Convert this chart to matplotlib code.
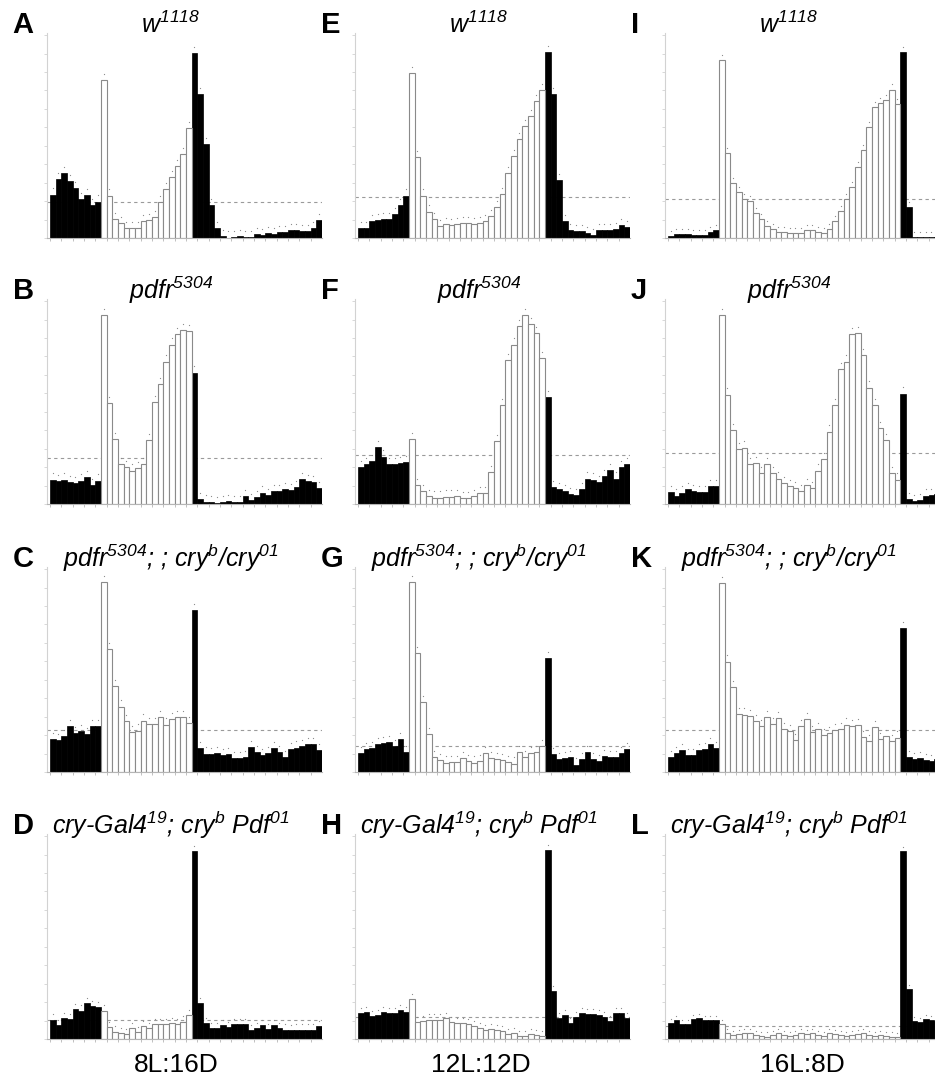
import matplotlib
matplotlib.use("Agg")
import matplotlib.pyplot as plt
import numpy as np

plt.rcParams['font.family'] = ['Liberation Sans', 'DejaVu Sans']
plt.rcParams['mathtext.fontset'] = 'custom'
plt.rcParams['mathtext.rm'] = 'Liberation Sans:italic'
plt.rcParams['mathtext.it'] = 'Liberation Sans:italic'

# photoperiods per column (hours of light), lights on after 9 half-hour bins
photoperiods = ["8L:16D", "12L:12D", "16L:8D"]
light_hours = [8, 12, 16]
dark_bins_before = 9

genotypes = [r"w$^{1118}$",
             r"pdfr$^{5304}$",
             r"pdfr$^{5304}$; ; cry$^{b}$/cry$^{01}$",
             r"cry-Gal4$^{19}$; cry$^{b}$ Pdf$^{01}$"]

letters = [["A", "E", "I"], ["B", "F", "J"], ["C", "G", "K"], ["D", "H", "L"]]

# relative activity per half-hour bin (48 bins)
vals_A = [21.2, 28.8, 31.6, 27.7, 24.3, 18.9, 21.0, 16.2, 17.8,
          76.9, 20.7, 9.4, 7.4, 4.9, 4.9, 4.9, 8.1, 8.9, 10.2, 17.5, 23.9, 29.6, 35.0, 40.8, 53.7,
          90.3, 70.4, 45.8, 15.9, 4.9, 1.0, 0.2, 0.5, 1.0, 0.6, 0.3, 2.1, 1.6, 2.4, 2.1, 2.8, 2.9,
          3.7, 4.0, 3.2, 3.2, 4.9, 8.6]
vals_E = [4.9, 4.9, 8.1, 8.6, 9.1, 9.1, 11.8, 16.2, 20.7,
          80.6, 39.3, 20.7, 12.9, 9.4, 5.7, 6.8, 6.1, 6.8, 7.4, 7.4, 6.8, 7.4, 8.1, 10.7, 14.9,
          21.5, 31.6, 40.1, 48.2, 54.7, 59.5, 66.8, 72.2,
          90.6, 70.1, 28.3, 8.1, 3.7, 3.2, 3.4, 2.4, 1.6, 3.7, 3.7, 3.7, 4.5, 6.1, 5.3]
vals_I = [1.0, 2.1, 1.8, 1.8, 1.6, 1.6, 1.3, 3.1, 3.9,
          87.0, 41.6, 26.9, 22.4, 18.8, 18.0, 12.3, 9.4, 5.8, 4.2, 3.1, 2.9, 2.6, 2.6, 2.6, 3.7,
          3.7, 3.1, 2.6, 4.2, 8.3, 13.0, 18.8, 24.8, 34.6, 42.9, 54.1, 63.8, 65.9, 67.5, 72.4, 65.4,
          90.6, 15.1, 0.3, 0.3, 0.3, 0.3, 0.3]
vals_B = [11.9, 11.0, 11.9, 10.7, 10.2, 11.4, 13.0, 9.4, 11.4,
          92.1, 49.3, 31.6, 19.6, 18.0, 16.3, 17.6, 19.6, 31.1, 49.8, 58.3, 69.5, 77.8, 83.0, 84.8, 84.3,
          64.1, 2.5, 1.2, 0.8, 0.3, 0.8, 1.5, 0.8, 0.8, 4.0, 2.0, 3.3, 5.6, 4.4, 6.4, 6.4, 7.2,
          6.9, 8.2, 12.2, 11.0, 10.5, 7.7]
vals_F = [18.0, 19.3, 20.9, 27.8, 23.1, 19.3, 19.6, 20.1, 20.6,
          31.6, 9.4, 6.1, 4.0, 3.1, 3.1, 3.6, 3.6, 4.0, 2.8, 2.8, 4.0, 5.3, 5.3, 15.5, 30.8,
          48.1, 70.3, 77.8, 86.8, 92.1, 87.6, 83.2, 71.2,
          52.2, 8.1, 7.4, 6.1, 4.8, 4.4, 7.4, 12.4, 11.9, 10.5, 13.5, 16.6, 12.4, 18.0, 19.6]
vals_J = [5.8, 4.1, 5.6, 7.4, 6.4, 5.8, 5.8, 8.6, 8.9,
          92.1, 53.4, 36.1, 26.7, 27.5, 19.3, 19.8, 15.2, 19.3, 15.2, 12.4, 10.2, 8.6, 7.7, 6.4, 9.4,
          7.7, 16.3, 22.1, 35.3, 48.4, 65.7, 69.5, 82.7, 83.2, 72.5, 56.8, 48.4, 37.1, 31.1, 15.2, 11.9,
          53.9, 2.3, 1.5, 2.0, 4.1, 4.4, 4.8]
vals_C = [16.2, 15.7, 17.4, 22.6, 19.0, 19.8, 18.5, 22.6, 22.3,
          92.6, 59.8, 41.8, 31.9, 24.8, 19.3, 20.2, 25.1, 23.5, 23.5, 26.9, 23.1, 26.0, 26.8, 26.8, 24.0,
          78.8, 11.6, 9.0, 8.6, 9.4, 8.3, 8.6, 6.6, 6.9, 7.4, 12.1, 9.9, 8.3, 9.1, 11.6, 9.6, 7.4,
          11.1, 11.9, 12.7, 13.6, 13.6, 10.7]
vals_G = [9.4, 11.1, 11.6, 13.7, 14.0, 14.5, 12.7, 16.2, 9.9,
          92.6, 58.2, 34.2, 18.5, 7.4, 5.8, 4.6, 5.0, 5.0, 6.6, 5.3, 4.6, 5.5, 9.4, 6.9, 6.3,
          5.8, 5.0, 4.1, 9.9, 7.4, 9.4, 9.9, 12.7,
          55.4, 8.8, 6.1, 6.9, 7.4, 3.6, 6.3, 9.6, 6.3, 5.3, 7.8, 7.1, 7.4, 9.1, 11.1]
vals_K = [7.4, 9.4, 10.7, 8.2, 8.1, 10.5, 11.0, 13.5, 11.5,
          92.3, 53.9, 41.5, 28.3, 28.0, 27.2, 25.0, 22.2, 26.7, 23.4, 26.2, 20.9, 19.8, 15.5, 22.2, 25.9,
          19.3, 20.9, 18.0, 18.8, 20.6, 20.9, 23.1, 22.6, 22.9, 17.1, 15.2, 22.1, 16.0, 17.6, 15.2, 16.8,
          70.3, 7.2, 6.1, 6.9, 5.8, 5.3, 6.1]
vals_D = [9.5, 6.6, 10.2, 9.8, 14.4, 13.9, 17.7, 15.9, 15.6,
          13.9, 5.7, 3.6, 3.0, 2.5, 5.2, 3.3, 6.1, 5.2, 7.4, 7.4, 7.4, 7.9, 7.4, 8.5, 11.5,
          91.8, 17.5, 7.9, 5.2, 5.2, 6.9, 5.7, 7.4, 7.4, 7.4, 4.4, 5.2, 6.6, 4.9, 6.6, 5.4, 4.6,
          4.4, 4.6, 4.6, 4.6, 4.6, 6.1]
vals_H = [12.8, 13.3, 11.2, 11.5, 13.3, 12.5, 12.8, 14.0, 13.3,
          19.4, 8.2, 8.7, 9.5, 9.5, 9.5, 10.4, 8.2, 7.9, 7.6, 7.1, 6.3, 5.4, 4.3, 4.9, 4.3,
          3.8, 2.5, 3.0, 1.6, 1.6, 2.5, 2.1, 1.6,
          92.1, 23.5, 10.4, 11.5, 7.6, 10.9, 12.8, 12.0, 12.0, 11.5, 10.9, 8.7, 12.5, 12.8, 10.4]
vals_L = [7.7, 9.1, 7.4, 7.4, 9.9, 10.2, 9.4, 9.1, 9.4,
          7.2, 3.1, 2.0, 2.5, 2.8, 2.8, 2.0, 1.5, 1.2, 2.0, 2.8, 2.0, 1.5, 2.0, 2.8, 2.5,
          3.1, 2.0, 1.5, 2.8, 2.5, 2.0, 1.5, 2.0, 2.5, 2.8, 2.0, 1.5, 2.0, 1.5, 1.2, 0.8,
          91.8, 24.5, 8.9, 8.2, 9.7, 9.4, 8.6]

panel_vals = [[vals_A, vals_E, vals_I],
              [vals_B, vals_F, vals_J],
              [vals_C, vals_G, vals_K],
              [vals_D, vals_H, vals_L]]

# daily mean level (dashed line)
mean_levels = [[17.5, 20.2, 19.2],
               [22.2, 23.9, 25.0],
               [20.3, 12.9, 20.6],
               [9.3, 10.9, 6.4]]

# approximate SEM (the small dots above bars)
sem_levels = [[3.0, 3.0, 2.5],
              [3.0, 3.0, 3.0],
              [3.0, 3.0, 3.0],
              [2.5, 2.5, 2.0]]

FIG_W = 935
FIG_H = 1083
col_left_px = [47, 355, 665]
row_top_px = [33, 299, 567, 834]
ax_w_px = 275
ax_h_px = 205


def draw_panel(ax, vals, n_light, mean_level, sem):
    vals = np.array(vals)
    x = np.arange(len(vals))
    is_light = (x >= dark_bins_before) & (x < dark_bins_before + 2 * n_light)

    ax.bar(x[~is_light], vals[~is_light], width=1.0, align='edge',
           color='black', edgecolor='black', linewidth=0.5, zorder=2)
    ax.bar(x[is_light], vals[is_light], width=1.0, align='edge',
           color='white', edgecolor='#8a8a8a', linewidth=0.8, zorder=2)

    # sem dots
    ax.scatter(x + 0.5, vals + sem, s=0.8, color='#8a8a8a', zorder=3, linewidths=0)

    ax.axhline(mean_level, color='#9a9a9a', linestyle=(0, (3, 3)), linewidth=0.8, zorder=1)

    ax.set_xlim(-0.5, 48)
    ax.set_ylim(0, 100)
    for side in ['top', 'right']:
        ax.spines[side].set_visible(False)
    ax.spines['left'].set_color('#d2d2d2')
    ax.spines['bottom'].set_color('#b5b5b5')
    ax.spines['left'].set_linewidth(0.8)
    ax.spines['bottom'].set_linewidth(0.8)
    ax.set_xticks(np.arange(0, 48, 2))
    ax.set_yticks(np.arange(0, 100, 9))
    ax.tick_params(axis='x', length=2.5, width=0.6, color='#b5b5b5', labelbottom=False)
    ax.tick_params(axis='y', length=2.5, width=0.6, color='#d2d2d2', labelleft=False)
    return 0


def main():
    fig = plt.figure(figsize=(FIG_W / 100, FIG_H / 100), dpi=100)

    for r in range(4):
        for c in range(3):
            left = col_left_px[c] / FIG_W
            bottom = 1 - (row_top_px[r] + ax_h_px) / FIG_H
            ax = fig.add_axes([left, bottom, ax_w_px / FIG_W, ax_h_px / FIG_H])
            draw_panel(ax, panel_vals[r][c], light_hours[c], mean_levels[r][c], sem_levels[r][c])

            ax.text(0.45, 1.0, genotypes[r], transform=ax.transAxes, ha='center',
                    va='baseline', fontsize=18, style='italic')
            ax.text(-0.125, 1.0, letters[r][c], transform=ax.transAxes, ha='left',
                    va='baseline', fontsize=21, fontweight='bold')

    label_x_px = [176, 481, 802]
    for c in range(3):
        fig.text(label_x_px[c] / FIG_W, 1 - 1065 / FIG_H, photoperiods[c],
                 ha='center', va='center', fontsize=19)

    fig.savefig("out.png", dpi=100)
    return 0


if __name__ == "__main__":
    main()
